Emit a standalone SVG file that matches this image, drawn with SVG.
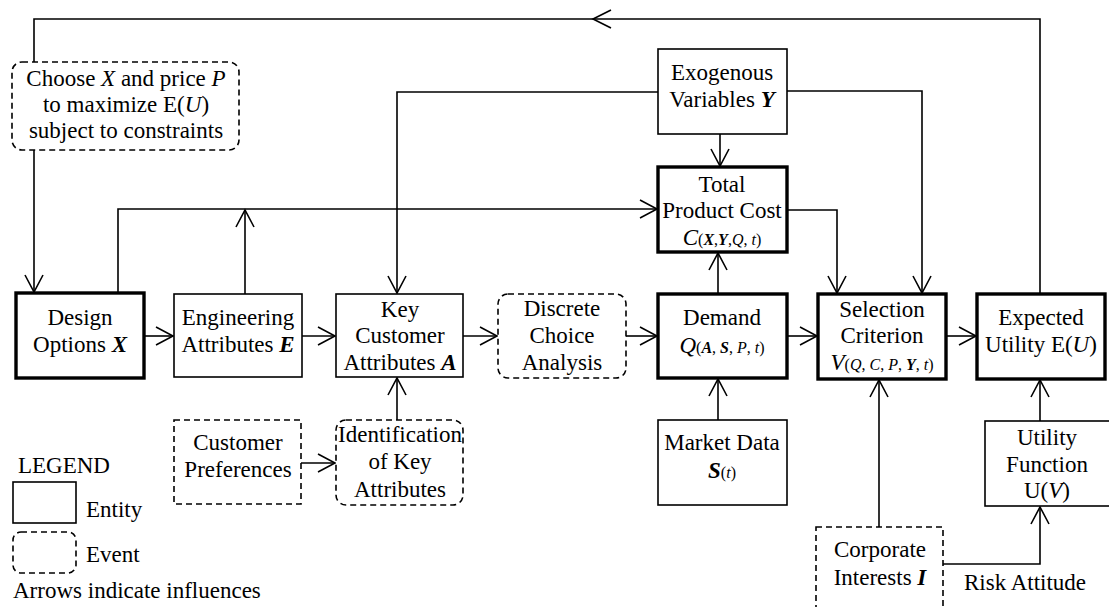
<svg xmlns="http://www.w3.org/2000/svg" width="1109" height="607" viewBox="0 0 1109 607">
<defs>
<marker id="ah" markerUnits="userSpaceOnUse" markerWidth="22" markerHeight="22" viewBox="-18 -11 20 22" refX="0" refY="0" orient="auto" overflow="visible">
<path d="M-17,-9 L0,0 L-17,9" fill="none" stroke="#000" stroke-width="1.6"/>
</marker>
</defs>
<style>
text{font-family:"Liberation Serif","Times New Roman",serif;font-size:23px;fill:#000;text-anchor:middle}
.l{text-anchor:start}
.i{font-style:italic}
.b{font-style:italic;font-weight:bold}
.s{font-size:16px}
.box{fill:#fff;stroke:#000;stroke-width:1.6}
.thick{fill:#fff;stroke:#000;stroke-width:3.4}
.ev{fill:#fff;stroke:#000;stroke-width:1.6;stroke-dasharray:6 4}
.c{fill:none;stroke:#000;stroke-width:1.6}
.ca{fill:none;stroke:#000;stroke-width:1.6;marker-end:url(#ah)}
</style>
<g id="connectors">
<path class="c" d="M1040,294 V19 H34 V62"/>
<path class="c" d="M611,10 L593,19 L611,28"/>
<path class="ca" d="M34,150 V292"/>
<path class="ca" d="M118,293 V209 H657"/>
<path class="ca" d="M245,294 V210"/>
<path class="ca" d="M658,92 H397 V293"/>
<path class="ca" d="M787,91 H922 V293"/>
<path class="ca" d="M720,134 V166"/>
<path class="ca" d="M787,210 H837 V293"/>
<path class="ca" d="M718,294 V253"/>
<path class="ca" d="M144,336 H173"/>
<path class="ca" d="M302,336 H335"/>
<path class="ca" d="M463,336 H497"/>
<path class="ca" d="M626,336 H657"/>
<path class="ca" d="M787,336 H817"/>
<path class="ca" d="M946,336 H976"/>
<path class="ca" d="M301,463 H335"/>
<path class="ca" d="M397,420 V378"/>
<path class="ca" d="M718,420 V379"/>
<path class="ca" d="M1040,421 V380"/>
<path class="ca" d="M879,527 V380"/>
<path class="ca" d="M943,564 H1040 V507"/>
</g>
<g id="choose">
<rect class="ev" x="12" y="62" width="227" height="88" rx="10"/>
<text x="126" y="86">Choose <tspan class="i">X</tspan> and price <tspan class="i">P</tspan></text>
<text x="126" y="112">to maximize E(<tspan class="i">U</tspan>)</text>
<text x="126" y="138">subject to constraints</text>
</g>
<g id="design">
<rect class="thick" x="16" y="293" width="128" height="85"/>
<text x="80" y="325">Design</text>
<text x="80" y="352">Options <tspan class="b">X</tspan></text>
</g>
<g id="engineering">
<rect class="box" x="174" y="294" width="128" height="83"/>
<text x="238" y="325">Engineering</text>
<text x="238" y="352">Attributes <tspan class="b">E</tspan></text>
</g>
<g id="keycust">
<rect class="box" x="336" y="294" width="127" height="83"/>
<text x="400" y="317">Key</text>
<text x="400" y="343">Customer</text>
<text x="400" y="370">Attributes <tspan class="b">A</tspan></text>
</g>
<g id="discrete">
<rect class="ev" x="498" y="294" width="128" height="84" rx="10"/>
<text x="562" y="316">Discrete</text>
<text x="562" y="343">Choice</text>
<text x="562" y="370">Analysis</text>
</g>
<g id="demand">
<rect class="thick" x="658" y="294" width="129" height="84"/>
<text x="722" y="325">Demand</text>
<text x="722" y="353"><tspan class="i">Q</tspan><tspan class="s">(<tspan class="b">A</tspan>, <tspan class="b">S</tspan>, <tspan class="i">P</tspan>, <tspan class="i">t</tspan>)</tspan></text>
</g>
<g id="selection">
<rect class="thick" x="818" y="294" width="128" height="85"/>
<text x="882" y="317">Selection</text>
<text x="882" y="343">Criterion</text>
<text x="882" y="370"><tspan class="i">V</tspan><tspan class="s">(<tspan class="i">Q</tspan>, <tspan class="i">C</tspan>, <tspan class="i">P</tspan>, <tspan class="b">Y</tspan>, <tspan class="i">t</tspan>)</tspan></text>
</g>
<g id="expected">
<rect class="thick" x="977" y="294" width="128" height="85"/>
<text x="1041" y="325">Expected</text>
<text x="1041" y="352">Utility E(<tspan class="i">U</tspan>)</text>
</g>
<g id="exogenous">
<rect class="box" x="658" y="49" width="129" height="85"/>
<text x="722" y="80">Exogenous</text>
<text x="722" y="107">Variables <tspan class="b">Y</tspan></text>
</g>
<g id="totalcost">
<rect class="thick" x="658" y="167" width="129" height="85"/>
<text x="722" y="192">Total</text>
<text x="722" y="218">Product Cost</text>
<text x="722" y="245"><tspan class="i">C</tspan><tspan class="s">(<tspan class="b">X</tspan>,<tspan class="b">Y</tspan>,<tspan class="i">Q</tspan>, <tspan class="i">t</tspan>)</tspan></text>
</g>
<g id="custpref">
<rect class="ev" x="174" y="420" width="127" height="84"/>
<text x="238" y="450">Customer</text>
<text x="238" y="477">Preferences</text>
</g>
<g id="identification">
<rect class="ev" x="336" y="420" width="127" height="85" rx="10"/>
<text x="400" y="442">Identification</text>
<text x="400" y="469">of Key</text>
<text x="400" y="497">Attributes</text>
</g>
<g id="market">
<rect class="box" x="658" y="420" width="129" height="85"/>
<text x="722" y="450">Market Data</text>
<text x="722" y="478"><tspan class="b">S</tspan><tspan class="s">(<tspan class="i">t</tspan>)</tspan></text>
</g>
<g id="utilityfn">
<rect class="box" x="985" y="421" width="130" height="85"/>
<text x="1047" y="445">Utility</text>
<text x="1047" y="472">Function</text>
<text x="1047" y="498">U(<tspan class="i">V</tspan>)</text>
</g>
<g id="corporate">
<rect class="ev" x="816" y="527" width="127" height="95"/>
<text x="880" y="557">Corporate</text>
<text x="880" y="585">Interests <tspan class="b">I</tspan></text>
</g>
<g id="riskattitude">
<text class="l" x="964" y="590">Risk Attitude</text>
</g>
<g id="legend">
<text class="l" x="18" y="473">LEGEND</text>
<rect class="box" x="13" y="482" width="63" height="41"/>
<text class="l" x="86" y="517">Entity</text>
<rect class="ev" x="13" y="532" width="63" height="41" rx="8"/>
<text class="l" x="86" y="562">Event</text>
<text class="l" x="13" y="598">Arrows indicate influences</text>
</g>
</svg>
